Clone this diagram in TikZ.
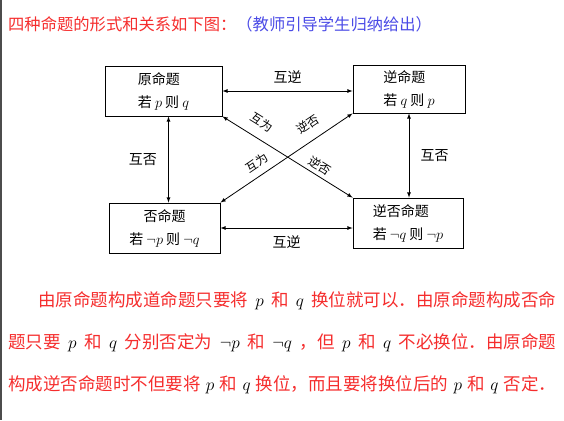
\documentclass[tikz,border=0pt]{standalone}
\usepackage{fontspec}
\newfontfamily\cjk{Noto Sans CJK SC}
\definecolor{hongse}{RGB}{245,45,45}
\definecolor{lanse}{RGB}{75,75,230}
\newcommand\zm[1]{\hspace{4pt plus 6pt}\textcolor{black}{$#1$}\hspace{4pt plus 6pt}}
\tikzset{
	mingti/.style={draw, thick, align=left, inner sep=0pt, font=\cjk\fontsize{14}{23}\selectfont},
	guanxi/.style={thick, <->, >=latex},
	biaoqian/.style={font=\cjk\fontsize{14}{16}\selectfont},
	xiebiao/.style={font=\cjk\fontsize{12}{14}\selectfont, inner sep=0pt, sloped},
	zhengwen/.style={anchor=west, inner sep=0pt, text=hongse, font=\cjk\fontsize{17.5}{20}\selectfont}
}
\begin{document}
	\begin{tikzpicture}[x=1pt,y=-1pt]
		\useasboundingbox (0,0) rectangle (564,420);
		\draw[gray!60!black, line width=1.5pt] (0.75,0) -- (0.75,420);

		\node[anchor=west, inner sep=0pt, font=\cjk\fontsize{16.3}{18}\selectfont] (biaoti) at (8,24)
			{\textcolor{hongse}{四种命题的形式和关系如下图：}\textcolor{lanse}{（教师引导学生归纳给出）}};

		\node[mingti, minimum width=117pt, minimum height=50pt] (yuan) at (163.5,91)
			{原命题\\若 $p$ 则 $q$};
		\node[mingti, minimum width=112pt, minimum height=48pt] (ni) at (409,89)
			{逆命题\\若 $q$ 则 $p$};
		\node[mingti, minimum width=111pt, minimum height=50pt, align=center] (fou) at (164.5,228)
			{否命题\\若 $\neg p$ 则 $\neg q$};
		\node[mingti, minimum width=110pt, minimum height=50pt] (nifou) at (408,223)
			{逆否命题\\若 $\neg q$ 则 $\neg p$};

		\draw[guanxi] (yuan.east) -- (yuan.east -| ni.west)
			node[midway, above=4pt, biaoqian] (hn1) {互逆};
		\draw[guanxi] (fou.east) -- (fou.east -| nifou.west)
			node[midway, below=4pt, biaoqian] (hn2) {互逆};
		\draw[guanxi] ([xshift=5pt]yuan.south) -- ([xshift=5pt]yuan.south |- fou.north)
			node[midway, left=8pt, biaoqian] (hf1) {互否};
		\draw[guanxi] (ni.south) -- (ni.south |- nifou.north)
			node[midway, right=8pt, biaoqian] (hf2) {互否};
		\draw[guanxi] (yuan.south east) -- (nifou.north west)
			node[pos=.24, xiebiao, above=10pt] (hw1) {互为}
			node[pos=.71, xiebiao, above=4pt] (nf1) {逆否};
		\draw[guanxi] (fou.north east) -- (ni.south west)
			node[pos=.33, xiebiao, above=7pt] (hw2) {互为}
			node[pos=.73, xiebiao, above=10pt] (nf2) {逆否};

		\node[zhengwen] (hang1) at (38,301)
			{\makebox[518pt][s]{由原命题构成道命题只要将\zm{p}和\zm{q}换位就可以．由原命题构成否命}};
		\node[zhengwen] (hang2) at (8,343)
			{\makebox[548pt][s]{题只要\zm{p}和\zm{q}分别否定为\zm{\neg p}和\zm{\neg q}，但\zm{p}和\zm{q}不必换位．由原命题}};
		\node[zhengwen] (hang3) at (8,385)
			{\makebox[548pt][s]{构成逆否命题时不但要将\zm{p}和\zm{q}换位，而且要将换位后的\zm{p}和\zm{q}否定．}};
	\end{tikzpicture}
\end{document}
